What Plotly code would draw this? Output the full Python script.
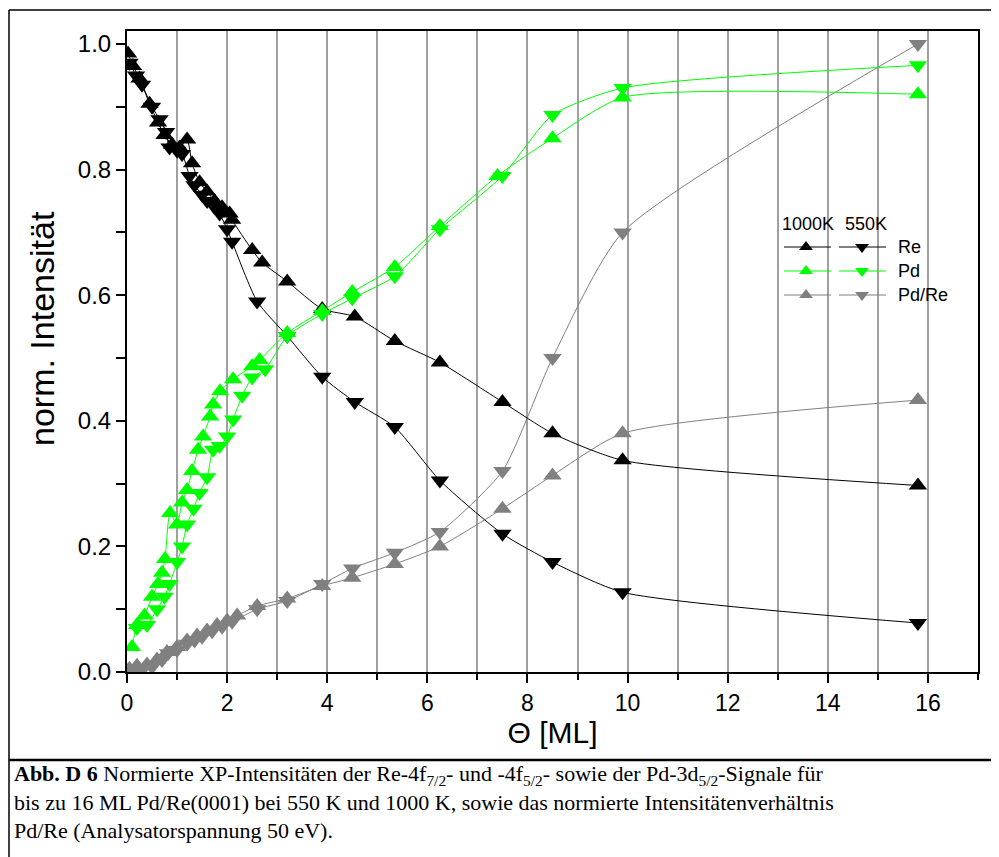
import plotly.graph_objects as go

# ---- data ----
theta_re1000 = [0.02, 0.12, 0.25, 0.45, 0.62, 0.75, 0.9, 1.05, 1.2, 1.3, 1.45, 1.6, 1.75, 1.9, 2.05, 2.1,
                2.5, 2.7, 3.2, 3.9, 4.55, 5.35, 6.25, 7.5, 8.5, 9.9, 15.8]
re1000 = [0.985, 0.965, 0.945, 0.905, 0.875, 0.855, 0.84, 0.835, 0.848, 0.81, 0.78, 0.765, 0.75, 0.74, 0.73, 0.72,
          0.672, 0.652, 0.622, 0.578, 0.566, 0.527, 0.493, 0.43, 0.38, 0.337, 0.297]

theta_re550 = [0.05, 0.18, 0.3, 0.5, 0.65, 0.78, 0.85, 1.0, 1.1, 1.25, 1.35, 1.5, 1.6, 1.75, 1.85, 2.0, 2.1,
               2.6, 3.2, 3.9, 4.55, 5.35, 6.25, 7.5, 8.5, 9.9, 15.8]
re550 = [0.97, 0.95, 0.935, 0.9, 0.88, 0.86, 0.835, 0.83, 0.825, 0.79, 0.775, 0.76, 0.75, 0.74, 0.73, 0.705, 0.685,
         0.59, 0.535, 0.47, 0.43, 0.39, 0.305, 0.22, 0.175, 0.127, 0.078]

theta_pd1000 = [0.1, 0.2, 0.35, 0.5, 0.62, 0.7, 0.76, 0.86, 1.0, 1.1, 1.2, 1.3, 1.42, 1.52, 1.66, 1.72, 1.86,
                2.12, 2.5, 2.65, 3.2, 3.9, 4.5, 5.35, 6.25, 7.4, 8.5, 9.9, 15.8]
pd1000 = [0.04, 0.075, 0.09, 0.12, 0.14, 0.158, 0.18, 0.253, 0.235, 0.27, 0.29, 0.32, 0.354, 0.375, 0.407, 0.426,
          0.447, 0.466, 0.487, 0.497, 0.54, 0.575, 0.605, 0.645, 0.71, 0.79, 0.85, 0.915, 0.92]

theta_pd550 = [0.2, 0.4, 0.6, 0.75, 0.85, 1.0, 1.1, 1.2, 1.33, 1.45, 1.6, 1.72, 1.85, 2.0, 2.12, 2.3, 2.5, 2.76,
               3.2, 3.9, 4.5, 5.35, 6.25, 7.5, 8.5, 9.9, 15.8]
pd550 = [0.07, 0.075, 0.1, 0.12, 0.14, 0.175, 0.2, 0.235, 0.26, 0.285, 0.31, 0.354, 0.36, 0.375, 0.402, 0.44,
         0.469, 0.482, 0.535, 0.57, 0.595, 0.63, 0.705, 0.79, 0.887, 0.93, 0.966]

theta_r1000 = [0.05, 0.2, 0.4, 0.6, 0.8, 1.0, 1.2, 1.4, 1.6, 1.8, 2.0, 2.2, 2.6, 3.2, 3.9, 4.5, 5.35, 6.25,
               7.5, 8.5, 9.9, 15.8]
r1000 = [0.005, 0.01, 0.012, 0.02, 0.032, 0.04, 0.05, 0.058, 0.066, 0.075, 0.082, 0.09, 0.105, 0.117, 0.137,
         0.15, 0.172, 0.2, 0.26, 0.313, 0.38, 0.433]

theta_r550 = [0.1, 0.3, 0.5, 0.7, 0.82, 1.0, 1.2, 1.35, 1.5, 1.7, 1.9, 2.1, 2.6, 3.2, 3.9, 4.5, 5.35, 6.25,
              7.5, 8.5, 9.9, 15.8]
r550 = [0.0, 0.003, 0.008, 0.019, 0.03, 0.035, 0.045, 0.05, 0.056, 0.065, 0.072, 0.08, 0.1, 0.113, 0.14,
        0.165, 0.19, 0.223, 0.32, 0.5, 0.7, 1.0]

x_ticks = [0, 2, 4, 6, 8, 10, 12, 14, 16]
y_ticks = [0.0, 0.2, 0.4, 0.6, 0.8, 1.0]
y_tick_labels = ["0.0", "0.2", "0.4", "0.6", "0.8", "1.0"]

legend_temps = ["1000K", "550K"]
legend_names = ["Re", "Pd", "Pd/Re"]

BLACK = "#000000"
GREEN = "#00ff00"
GREY = "#808080"
FONT = "Liberation Sans, Arial, sans-serif"
SERIF = "Liberation Serif, Times New Roman, serif"

# the page body has an 8 px margin; geometry below is given in page pixels
FIG_W, FIG_H = 991, 849
PLOT_L, PLOT_R, PLOT_T, PLOT_B = 127, 978, 31, 672   # page pixels


def px_x(p):
    return (p - PLOT_L) / (PLOT_R - PLOT_L)


def px_y(p):
    return (PLOT_B - p) / (PLOT_B - PLOT_T)


series = [
    (theta_r1000, r1000, GREY, "triangle-up"),
    (theta_r550, r550, GREY, "triangle-down"),
    (theta_re1000, re1000, BLACK, "triangle-up"),
    (theta_re550, re550, BLACK, "triangle-down"),
    (theta_pd1000, pd1000, GREEN, "triangle-up"),
    (theta_pd550, pd550, GREEN, "triangle-down"),
]

fig = go.Figure()
for xs, ys, col, sym in series:
    fig.add_trace(go.Scatter(
        x=xs, y=ys, mode="lines+markers",
        line=dict(color=col, width=1, shape="spline", smoothing=0.6),
        marker=dict(symbol=sym, size=16, color=col, line=dict(width=0)),
        showlegend=False, hoverinfo="skip"))

# ---- custom legend on an overlay axis (0..1 spans the plot area) ----
leg_cols = [(px_x(784), px_x(831), px_x(806), "triangle-up"),
            (px_x(839), px_x(886), px_x(862), "triangle-down")]
leg_rows = [(px_y(247), BLACK), (px_y(271), GREEN), (px_y(295), GREY)]
for (ry, col) in leg_rows:
    for (x0, x1, xm, sym) in leg_cols:
        fig.add_trace(go.Scatter(x=[x0, x1], y=[ry, ry], mode="lines", line=dict(color=col, width=1.2),
                                 xaxis="x2", yaxis="y2", showlegend=False, hoverinfo="skip"))
        fig.add_trace(go.Scatter(x=[xm], y=[ry], mode="markers",
                                 marker=dict(symbol=sym, size=12, color=col, line=dict(width=0)),
                                 xaxis="x2", yaxis="y2", showlegend=False, hoverinfo="skip"))

annotations = []
for (xc, t) in zip([px_x(808), px_x(866)], legend_temps):
    annotations.append(dict(x=xc, y=px_y(224), xref="x2", yref="y2", text=t, showarrow=False,
                            font=dict(family=FONT, size=18, color="black"), xanchor="center", yanchor="middle"))
for (ry, _), name in zip(leg_rows, legend_names):
    annotations.append(dict(x=px_x(896), y=ry, xref="x2", yref="y2", text=name, showarrow=False,
                            font=dict(family=FONT, size=18, color="black"), xanchor="left", yanchor="middle"))

# y-axis title (placed as annotation to match position)
annotations.append(dict(x=px_x(42), y=px_y(329), xref="paper", yref="paper", text="norm. Intensität",
                        textangle=-90, showarrow=False, xanchor="center", yanchor="middle",
                        font=dict(family=FONT, size=34, color="black")))

# ---- caption (one multi-line text block) ----
cap_lines = [
    "<b>Abb. D 6</b> Normierte XP-Intensitäten der Re-4f<sub>7/2</sub>- und -4f<sub>5/2</sub>- sowie der "
    "Pd-3d<sub>5/2</sub>-Signale für",
    "bis zu 16 ML Pd/Re(0001) bei 550 K und 1000 K, sowie das normierte Intensitätenverhältnis",
    "Pd/Re (Analysatorspannung 50 eV).",
]
annotations.append(dict(x=px_x(12), y=px_y(802), xref="paper", yref="paper", text="<br>".join(cap_lines),
                        showarrow=False, xanchor="left", yanchor="middle", align="left",
                        font=dict(family=SERIF, size=22, color="black")))

# ---- outer frame and caption separator ----
shapes = [
    dict(type="line", xref="paper", yref="paper", x0=px_x(9), x1=px_x(9), y0=px_y(10), y1=px_y(870),
         line=dict(color="black", width=1.5)),
    dict(type="line", xref="paper", yref="paper", x0=px_x(9), x1=px_x(1010), y0=px_y(10), y1=px_y(10),
         line=dict(color="black", width=1.5)),
    dict(type="line", xref="paper", yref="paper", x0=px_x(9), x1=px_x(1010), y0=px_y(760), y1=px_y(760),
         line=dict(color="black", width=2.5)),
]

fig.update_layout(
    width=FIG_W, height=FIG_H,
    margin=dict(l=PLOT_L - 8, r=FIG_W - (PLOT_R - 8), t=PLOT_T - 8, b=FIG_H - (PLOT_B - 8)),
    paper_bgcolor="white", plot_bgcolor="white",
    font=dict(family=FONT, color="black"),
    annotations=annotations, shapes=shapes,
    xaxis=dict(range=[0, 17], tickvals=x_ticks, ticktext=[str(v) for v in x_ticks],
               ticks="outside", ticklen=9, tickwidth=2, tickcolor="black",
               showline=True, linewidth=2, linecolor="black", mirror=True,
               showgrid=True, gridcolor="#a0a0a0", gridwidth=1.5, zeroline=False,
               minor=dict(dtick=1, tick0=0, ticks="outside", ticklen=6, tickwidth=2, tickcolor="black",
                          showgrid=True, gridcolor="#a0a0a0", gridwidth=1.5),
               tickfont=dict(family=FONT, size=23),
               title=dict(text="Θ [ML]", font=dict(family=FONT, size=30), standoff=2)),
    yaxis=dict(range=[0, 1.0207], tickvals=y_ticks, ticktext=y_tick_labels,
               ticks="outside", ticklen=9, tickwidth=2, tickcolor="black",
               showline=True, linewidth=2, linecolor="black", mirror=True,
               showgrid=False, zeroline=False,
               minor=dict(dtick=0.1, tick0=0, ticks="outside", ticklen=9, tickwidth=2, tickcolor="black",
                          showgrid=False),
               tickfont=dict(family=FONT, size=24)),
    xaxis2=dict(overlaying="x", range=[0, 1], visible=False, domain=[0, 1]),
    yaxis2=dict(overlaying="y", range=[0, 1], visible=False, domain=[0, 1]),
)

fig.write_html("out.html")
